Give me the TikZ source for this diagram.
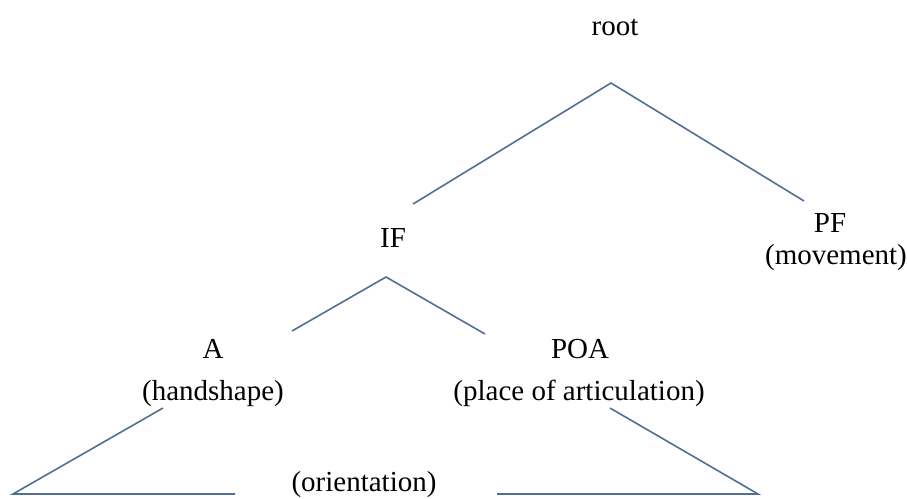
\documentclass[tikz,border=0pt]{standalone}
\usepackage{fontspec}
\setmainfont{Liberation Serif}
\definecolor{branchc}{RGB}{80,110,150}
\begin{document}
\begin{tikzpicture}[x=1pt,y=-1pt,
  lbl/.style={anchor=base, inner sep=0pt, font=\fontsize{29}{35}\selectfont, text=black},
  branch/.style={draw=branchc, line width=1.6pt, line join=miter}]
\useasboundingbox (0,0) rectangle (907,498);
% labels
\node[lbl] (root) at (615,35) {root};
\node[lbl] (IF) at (393,247) {IF};
\node[lbl] (PF) at (830,232) {PF};
\node[lbl] (PFd) at (836,264) {(movement)};
\node[lbl] (A) at (213,358) {A};
\node[lbl] (Ad) at (213,400) {(handshape)};
\node[lbl] (POA) at (580,358) {POA};
\node[lbl] (POAd) at (579,400) {(place of articulation)};
\node[lbl] (orient) at (364,491) {(orientation)};
% branch points
\coordinate (rA) at (611,83);
\coordinate (rL) at (413,204);
\coordinate (rR) at (804,201);
\coordinate (iA) at (386,277);
\coordinate (iL) at (292,331);
\coordinate (iR) at (485,334);
\coordinate (aT) at (163,408);
\coordinate (aC) at (13,494);
\coordinate (aE) at (235,494);
\coordinate (pT) at (610,408);
\coordinate (pC) at (758,494);
\coordinate (pE) at (497,494);
% branches
\draw[branch] (rL) -- (rA) -- (rR);
\draw[branch] (iL) -- (iA) -- (iR);
\draw[branch] (aT) -- (aC) -- (aE);
\draw[branch] (pT) -- (pC) -- (pE);
\end{tikzpicture}
\end{document}
